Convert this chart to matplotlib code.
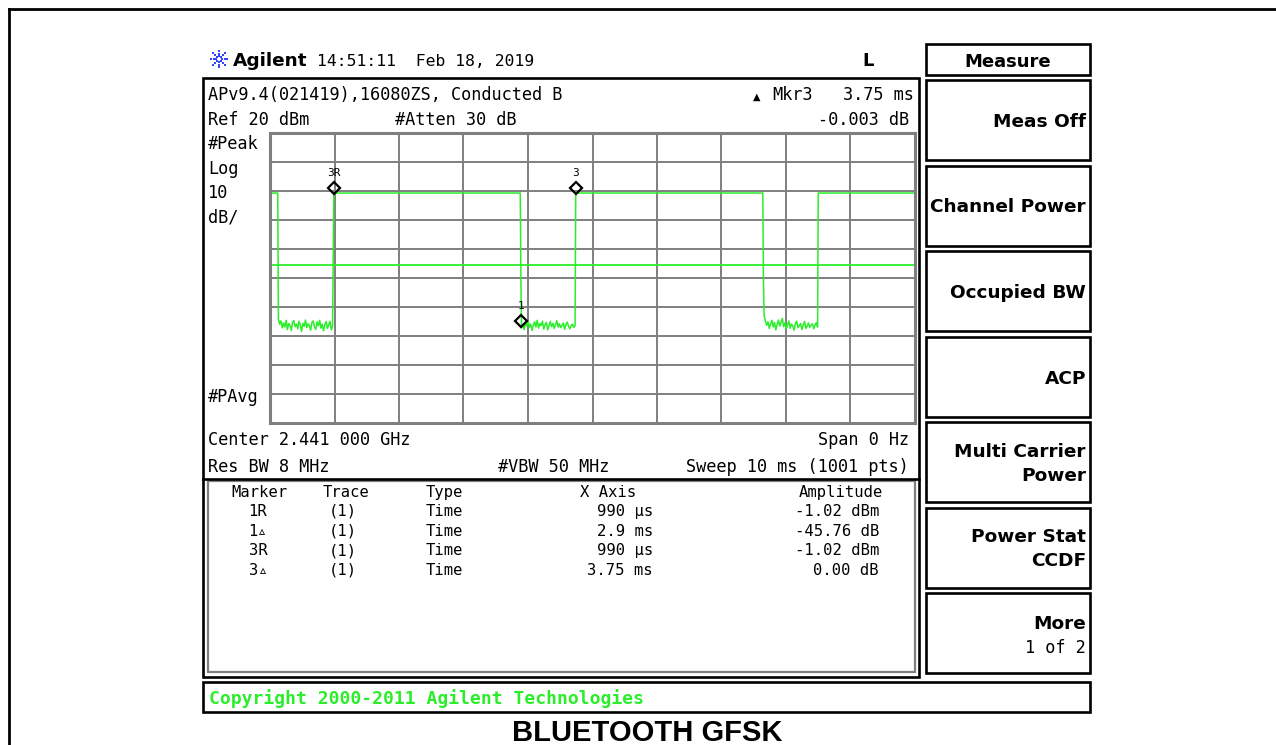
import numpy as np
import matplotlib
matplotlib.use("Agg")
import matplotlib.pyplot as plt
from matplotlib.patches import Rectangle
from matplotlib.transforms import offset_copy

W, H = 1276, 745

# instrument settings shown on the screen
ref_level_dbm = 20
db_per_div = 10
n_div = 10
sweep_ms = 10
display_line_dbm = -25.5
on_level_dbm = -0.7

# burst on-time spans (ms) and the single samples caught mid-transition
on_start_ms = [0.00, 0.99, 4.74, 8.50]
on_end_ms = [0.12, 3.88, 7.64, 10.00]
edge_ms = [0.98, 3.89, 7.65]
edge_dbm = [-22.5, -31.0, -30.0]

# off-time noise floor
gap_start_ms = [0.13, 3.90, 7.66]
gap_end_ms = [0.97, 4.73, 8.49]
gap1_dbm = [-44.3, -45.9, -44.8, -47.2, -45.5, -46.9, -44.6, -47.8, -45.7, -46.3,
            -48.1, -45.2, -44.7, -46.8, -45.9, -47.5, -44.9, -46.2, -48.4, -45.6,
            -46.7, -44.5, -47.1, -45.8, -46.4, -48.0, -45.3, -44.8, -46.9, -47.7,
            -45.1, -46.5, -44.6, -47.3, -45.9, -48.2, -46.1, -45.0, -47.4, -46.3,
            -44.9, -47.9, -46.6]
gap2_dbm = [-47.2, -46.0, -47.8, -45.4, -46.6, -44.8, -47.0, -45.9, -48.1, -46.2,
            -45.1, -46.9, -44.6, -47.3, -45.7, -46.4, -44.9, -47.6, -46.1, -45.3,
            -47.9, -46.5, -45.0, -46.8, -45.6, -47.4, -46.2, -44.7, -46.9, -45.8,
            -47.1, -46.3, -45.5, -47.7, -46.0, -45.2, -46.7, -47.5, -46.4, -45.9,
            -47.0, -46.5]
gap3_dbm = [-42.9, -44.8, -46.3, -45.1, -47.4, -45.8, -44.6, -46.9, -45.3, -47.9,
            -46.0, -44.5, -46.6, -45.2, -43.9, -46.8, -45.4, -47.6, -46.2, -44.8,
            -47.3, -45.9, -46.5, -48.0, -45.6, -44.9, -47.1, -46.4, -45.7, -47.8,
            -46.1, -45.0, -47.4, -46.6, -45.5, -47.0, -46.3, -45.8, -47.5, -46.2,
            -45.4, -46.9]

# markers on the trace
marker_names = ["3R", "1", "3"]
marker_ms = [0.99, 3.89, 4.74]
marker_dbm = [-1.02, -46.78, -1.02]

# marker table
table_header = ["Marker", "Trace", "Type", "X Axis", "Amplitude"]
table_marker = ["1R", "1\u25b5", "3R", "3\u25b5"]
table_trace = ["(1)", "(1)", "(1)", "(1)"]
table_type = ["Time", "Time", "Time", "Time"]
table_xaxis = ["990 \u00b5s", "2.9 ms", "990 \u00b5s", "3.75 ms"]
table_amp = ["-1.02 dBm", "-45.76 dB", "-1.02 dBm", "0.00 dB"]

softkeys = [["Meas Off"], ["Channel Power"], ["Occupied BW"], ["ACP"],
            ["Multi Carrier", "Power"], ["Power Stat", "CCDF"], ["More"]]

MONO = ["DejaVu Sans Mono", "DejaVu Sans"]
SANS = ["DejaVu Sans"]
GREEN = "#2aee2a"
GRID = "#7f7f7f"

fig = plt.figure(figsize=(W / 100, H / 100), dpi=100)
bg = fig.add_axes([0, 0, 1, 1])
bg.set_xlim(0, W)
bg.set_ylim(H, 0)
bg.axis("off")


def txt(x, y, s, size=12.2, ha="left", weight="normal", color="black", family=MONO):
    bg.text(x, y, s, fontsize=size, ha=ha, va="baseline", fontweight=weight,
            color=color, family=family)


def box(x0, y0, x1, y1, color="black", lw=1.9):
    bg.add_patch(Rectangle((x0, y0), x1 - x0, y1 - y0, fill=False,
                           edgecolor=color, lw=lw))


# outer frame (only top and left edges fall inside the picture)
bg.plot([9, W], [9, 9], color="black", lw=2)
bg.plot([9, 9], [9, H], color="black", lw=2)

# title bar
for a in np.arange(0, 360, 45):
    r = np.array([3.0, 5.5, 8.0])
    bg.scatter(219 + r * np.cos(np.radians(a)), 59 + r * np.sin(np.radians(a)),
               s=2.5, color="#3344ff", marker="s", lw=0)
txt(233, 66, "Agilent", size=13.3, weight="bold", family=SANS)
txt(317, 66, "14:51:11  Feb 18, 2019", size=11.8)
txt(868, 66, "L", size=13, weight="bold", family=SANS, ha="center")

# main display frame
box(203, 78, 919, 677)
txt(208, 100, "APv9.4(021419),16080ZS, Conducted B")
txt(757, 100, "\u25b2", size=7, ha="center", family=SANS)
txt(772, 100, "Mkr3")
txt(914, 100, "3.75 ms", ha="right")
txt(208, 125, "Ref 20 dBm")
txt(395, 125, "#Atten 30 dB")
txt(909, 125, "-0.003 dB", ha="right")
for yy, s in zip([149, 174, 198, 223, 402], ["#Peak", "Log", "10", "dB/", "#PAvg"]):
    txt(208, yy, s)
txt(208, 445, "Center 2.441 000 GHz")
txt(909, 445, "Span 0 Hz", ha="right")
txt(208, 472, "Res BW 8 MHz")
txt(498, 472, "#VBW 50 MHz")
txt(909, 472, "Sweep 10 ms (1001 pts)", ha="right")

# marker table
bg.plot([203, 919], [479, 479], color="black", lw=1.9)
box(208, 481, 915, 672, color=GRID, lw=1.6)
hx = [259, 346, 426, 608, 841]
has = ["center", "center", "left", "center", "center"]
for x, s, h in zip(hx, table_header, has):
    txt(x, 497, s, size=11.2, ha=h)
for i in range(4):
    yy = 516 + i * 19.6
    txt(258, yy, table_marker[i], size=11.2, ha="center")
    txt(343, yy, table_trace[i], size=11.2, ha="center")
    txt(426, yy, table_type[i], size=11.2)
    txt(653, yy, table_xaxis[i], size=11.2, ha="right")
    txt(879, yy, table_amp[i], size=11.2, ha="right")

# copyright strip and caption
box(203, 682, 1090, 712)
txt(209, 704, "Copyright 2000-2011 Agilent Technologies", size=13.0,
    weight="bold", color=GREEN)
bg.text(647, 741, "BLUETOOTH GFSK", fontsize=21, fontweight="bold",
        family=["Liberation Sans", "DejaVu Sans"], ha="center", va="baseline")

# softkey panel
box(926, 44, 1090, 75)
txt(1008, 67, "Measure", size=13, weight="bold", family=SANS, ha="center")
for i, lines in enumerate(softkeys):
    y0 = 80 + i * 85.5
    box(926, y0, 1090, y0 + 80)
    if lines[0] == "More":
        txt(1086, y0 + 36, "More", size=13.3, weight="bold", family=SANS, ha="right")
        txt(1086, y0 + 60, "1 of 2", size=12.2, ha="right")
    elif len(lines) == 1:
        txt(1086, y0 + 47, lines[0], size=13.3, weight="bold", family=SANS, ha="right")
    else:
        txt(1086, y0 + 35, lines[0], size=13.3, weight="bold", family=SANS, ha="right")
        txt(1086, y0 + 59, lines[1], size=13.3, weight="bold", family=SANS, ha="right")

# graticule and trace
ax = fig.add_axes([270 / W, 1 - 423 / H, (915 - 270) / W, (423 - 133) / H])
bottom_dbm = ref_level_dbm - n_div * db_per_div
ax.set_xlim(0, sweep_ms)
ax.set_ylim(bottom_dbm, ref_level_dbm)
ax.set_xticks(np.arange(0, sweep_ms + 1, sweep_ms / n_div))
ax.set_yticks(np.arange(bottom_dbm, ref_level_dbm + 1, db_per_div))
ax.tick_params(length=0, labelbottom=False, labelleft=False)
ax.grid(True, color=GRID, lw=1.4)
ax.set_axisbelow(True)
for sp in ax.spines.values():
    sp.set_color(GRID)
    sp.set_linewidth(2.2)

pts = [(t, on_level_dbm) for t in on_start_ms + on_end_ms]
pts += list(zip(edge_ms, edge_dbm))
for g0, g1, vals in zip(gap_start_ms, gap_end_ms, [gap1_dbm, gap2_dbm, gap3_dbm]):
    pts += list(zip(np.linspace(g0, g1, len(vals)), vals))
pts.sort()
tt, pp = zip(*pts)
ax.plot(tt, pp, color=GREEN, lw=1.1)
ax.axhline(display_line_dbm, color=GREEN, lw=1.3)

tr = offset_copy(ax.transData, fig=fig, x=0, y=6, units="dots")
ax.plot(marker_ms, marker_dbm, "D", ms=6.5, mfc="none", mec="black", mew=1.6,
        transform=tr, clip_on=False)
for name, t, p in zip(marker_names, marker_ms, marker_dbm):
    ax.annotate(name, (t, p), xytext=(0, 21), textcoords="offset pixels",
                ha="center", va="center", fontsize=8, family=MONO)

fig.savefig("out.png", dpi=100)
